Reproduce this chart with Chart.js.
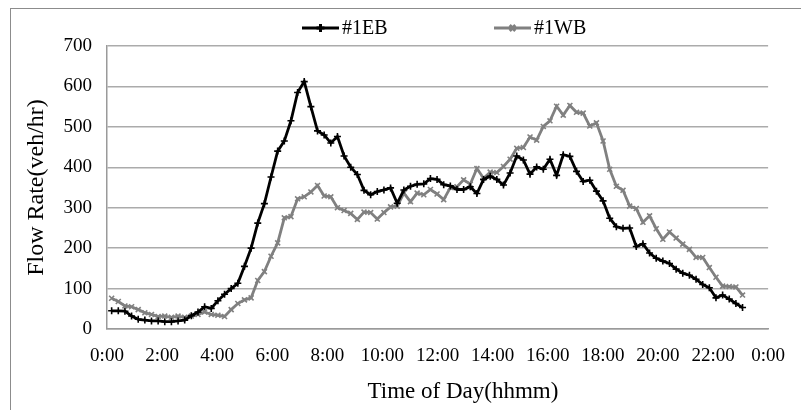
<!DOCTYPE html>
<html>
<head>
<meta charset="utf-8">
<script src="https://cdn.jsdelivr.net/npm/chart.js@4"></script>
<style>
  html, body { margin: 0; padding: 0; background: #fff; }
  #wrap { position: relative; width: 801px; height: 410px; overflow: hidden; }
  #frame { position: absolute; left: 10px; top: 8px; width: 800px; height: 410px; border: 1px solid #8c8c8c; }
  canvas { position: absolute; left: 0; top: 0; }
</style>
</head>
<body>
<div id="wrap">
  <div id="frame"></div>
  <canvas id="flowChart" width="801" height="410"></canvas>
</div>
<script>
// 15-minute time stamps
const times = [
  '0:00','0:15','0:30','0:45','1:00','1:15','1:30','1:45','2:00','2:15','2:30','2:45',
  '3:00','3:15','3:30','3:45','4:00','4:15','4:30','4:45','5:00','5:15','5:30','5:45',
  '6:00','6:15','6:30','6:45','7:00','7:15','7:30','7:45','8:00','8:15','8:30','8:45',
  '9:00','9:15','9:30','9:45','10:00','10:15','10:30','10:45','11:00','11:15','11:30','11:45',
  '12:00','12:15','12:30','12:45','13:00','13:15','13:30','13:45','14:00','14:15','14:30','14:45',
  '15:00','15:15','15:30','15:45','16:00','16:15','16:30','16:45','17:00','17:15','17:30','17:45',
  '18:00','18:15','18:30','18:45','19:00','19:15','19:30','19:45','20:00','20:15','20:30','20:45',
  '21:00','21:15','21:30','21:45','22:00','22:15','22:30','22:45','23:00','23:15','23:30','23:45'
];

// #1EB flow rate (veh/hr)
const eastbound = [
  45, 45, 44, 32, 24, 22, 20, 20, 18, 18,
  20, 22, 33, 42, 55, 51, 70, 86, 100, 113,
  155, 200, 262, 310, 376, 440, 465, 515, 585, 612,
  550, 490, 480, 460, 476, 428, 400, 382, 343, 332,
  340, 344, 349, 311, 344, 353, 358, 359, 372, 370,
  357, 354, 345, 345, 352, 335, 370, 378, 370, 356,
  386, 428, 418, 383, 401, 395, 420, 380, 431, 427,
  390, 365, 368, 341, 317, 274, 253, 249, 250, 204,
  211, 188, 175, 168, 162, 148, 138, 133, 123, 110,
  102, 77, 84, 74, 63, 53
];

// #1WB flow rate (veh/hr)
const westbound = [
  76, 68, 57, 55, 48, 40, 36, 31, 32, 29,
  32, 29, 32, 36, 42, 36, 34, 31, 48, 63,
  72, 77, 120, 142, 180, 213, 275, 278, 322, 327,
  339, 355, 329, 327, 300, 293, 286, 271, 289, 288,
  272, 288, 302, 304, 336, 315, 336, 332, 345, 334,
  320, 350, 352, 369, 358, 397, 373, 388, 387, 402,
  420, 447, 449, 475, 467, 501, 515, 551, 529, 553,
  536, 534, 502, 510, 465, 395, 353, 343, 304, 298,
  264, 280, 248, 222, 240, 225, 210, 197, 177, 177,
  152, 128, 106, 105, 104, 84
];

const hourLabels = ['0:00','2:00','4:00','6:00','8:00','10:00','12:00','14:00','16:00','18:00','20:00','22:00','0:00'];
const xTitle = 'Time of Day(hhmm)';
const yTitle = 'Flow Rate(veh/hr)';

const serif = '"Liberation Serif", "Times New Roman", serif';

// time string -> quarter-hour slot
function slot(t) {
  const [h, m] = t.split(':').map(Number);
  return (h * 60 + m) / 15;
}

function toPoints(values) {
  return values.map((v, i) => ({ x: slot(times[i]), y: v }));
}

// Legend drawn as line + marker, and the x title (sits right of plot centre in the original)
const extras = {
  id: 'extras',
  afterDraw(chart) {
    const ctx = chart.ctx;
    const starts = [302, 494];
    const y = 28;
    chart.data.datasets.forEach((ds, i) => {
      const x0 = starts[i], len = 37;
      ctx.save();
      ctx.strokeStyle = ds.borderColor;
      ctx.lineWidth = 3;
      ctx.beginPath();
      ctx.moveTo(x0, y);
      ctx.lineTo(x0 + len, y);
      ctx.stroke();
      ctx.fillStyle = ds.borderColor;
      Chart.helpers.drawPoint(ctx, {
        pointStyle: ds.pointStyle, radius: 4, borderWidth: 1.6
      }, x0 + len / 2, y);
      ctx.fillStyle = '#000';
      ctx.font = '20px ' + serif;
      ctx.textBaseline = 'middle';
      ctx.textAlign = 'left';
      ctx.fillText(ds.label, x0 + len + 3, y + 1);
      ctx.restore();
    });

    ctx.save();
    ctx.fillStyle = '#000';
    ctx.font = '23px ' + serif;
    ctx.textAlign = 'center';
    ctx.textBaseline = 'middle';
    ctx.fillText(xTitle, 463, 392);
    ctx.restore();
  }
};

new Chart(document.getElementById('flowChart'), {
  type: 'line',
  data: {
    datasets: [
      {
        label: '#1EB',
        data: toPoints(eastbound),
        borderColor: '#000000',
        backgroundColor: '#000000',
        borderWidth: 2.8,
        pointStyle: 'cross',
        pointRadius: 3.5,
        pointBorderWidth: 1.6,
        tension: 0
      },
      {
        label: '#1WB',
        data: toPoints(westbound),
        borderColor: '#808080',
        backgroundColor: '#808080',
        borderWidth: 2.8,
        pointStyle: 'crossRot',
        pointRadius: 3.5,
        pointBorderWidth: 1.6,
        tension: 0
      }
    ]
  },
  options: {
    responsive: false,
    animation: false,
    layout: { padding: { top: 46, right: 27, left: 0, bottom: 0 } },
    plugins: {
      legend: { display: false },
      tooltip: { enabled: false }
    },
    scales: {
      x: { type: 'linear', min: -0.7, max: 98.85, display: false },
      xt: {
        type: 'linear',
        position: 'bottom',
        min: 0,
        max: 24,
        afterFit(scale) { scale.height = 81; },
        ticks: {
          stepSize: 2,
          autoSkip: false,
          maxRotation: 0,
          padding: 16,
          color: '#000',
          font: { family: serif, size: 19 },
          callback: v => hourLabels[v / 2]
        },
        grid: { display: false, drawTicks: false },
        border: { display: true, color: '#9a9a9a', width: 1.5 }
      },
      y: {
        min: 0,
        max: 700,
        afterFit(scale) { scale.width = 107; },
        ticks: {
          stepSize: 100,
          padding: 15,
          color: '#000',
          font: { family: serif, size: 19 }
        },
        grid: { color: '#ababab', lineWidth: 1.5, drawTicks: false },
        border: { display: true, color: '#9a9a9a', width: 1.5 },
        title: {
          display: true,
          text: yTitle,
          color: '#000',
          font: { family: serif, size: 24 },
          padding: { top: 22, bottom: 0 }
        }
      }
    }
  },
  plugins: [extras]
});
</script>
</body>
</html>
